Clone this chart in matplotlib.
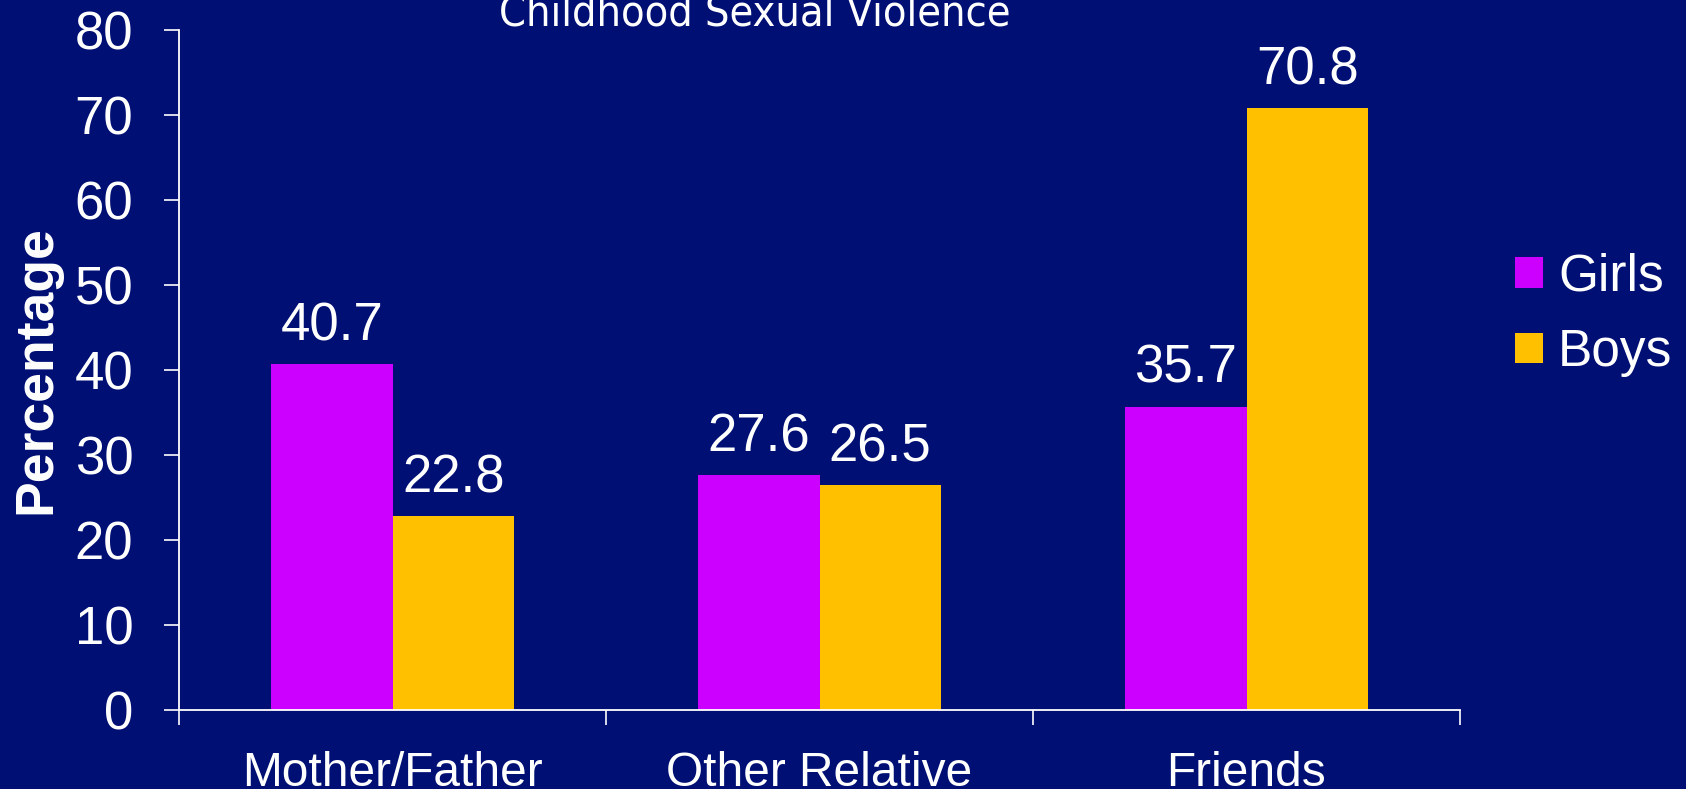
import matplotlib
matplotlib.use("Agg")
import matplotlib.pyplot as plt
import numpy as np
from matplotlib.patches import Patch

categories = ["Mother/Father", "Other Relative", "Friends"]
girls = [40.7, 27.6, 35.7]
boys = [22.8, 26.5, 70.8]
series_names = ["Girls", "Boys"]
yticks = [0, 10, 20, 30, 40, 50, 60, 70, 80]
title = "Childhood Sexual Violence"
ylabel = "Percentage"

BG = "#000F73"
C_GIRLS = "#CC00FF"
C_BOYS = "#FFC000"
FONT = "Liberation Sans"

fig = plt.figure(figsize=(16.86, 7.89), dpi=100, facecolor=BG)
ax = fig.add_axes([179/1686, 1 - 710/789, (1460 - 179)/1686, (710 - 30)/789])
ax.set_facecolor(BG)

x = np.arange(len(categories))
w = 0.284
b1 = ax.bar(x - w/2, girls, w, color=C_GIRLS, label=series_names[0], linewidth=0)
b2 = ax.bar(x + w/2, boys, w, color=C_BOYS, label=series_names[1], linewidth=0)

for bars, vals in ((b1, girls), (b2, boys)):
    for r, v in zip(bars, vals):
        ax.annotate(f"{v:.1f}", (r.get_x() + r.get_width()/2, v),
                    xytext=(0, 17), textcoords="offset points",
                    ha="center", va="baseline", color="white",
                    fontsize=38, family=FONT)

ax.set_xlim(-0.5, len(categories) - 0.5)
ax.set_ylim(0, 80)
ax.set_yticks(yticks)
ax.set_yticklabels([str(t) for t in yticks])
ax.set_xticks(x)
ax.set_xticklabels(categories)
ax.set_xticks(np.arange(-0.5, len(categories), 1.0), minor=True)

ax.tick_params(axis="y", colors="white", labelcolor="white", labelsize=38,
               length=11, width=1.2, pad=22, direction="out")
ax.tick_params(axis="x", which="major", length=0, labelcolor="white",
               labelsize=34.5, pad=29.5)
ax.tick_params(axis="x", which="minor", colors="white", length=11, width=1.2,
               direction="out")
for lab in ax.get_xticklabels() + ax.get_yticklabels():
    lab.set_family(FONT)

for s in ("top", "right"):
    ax.spines[s].set_visible(False)
for s in ("left", "bottom"):
    ax.spines[s].set_color("white")
    ax.spines[s].set_linewidth(1.3)

fig.text(755/1686, 1 - 26/789, title, ha="center", va="baseline",
         color="white", fontsize=31, family="DejaVu Sans", fontstretch="condensed")

fig.text(36/1686, 0.5 * ((1 - 30/789) + (1 - 710/789)), ylabel, rotation=90,
         ha="center", va="center", color="white", fontsize=38.5,
         fontweight="bold", family=FONT)

handles = [Patch(facecolor=C_GIRLS, edgecolor="none"),
           Patch(facecolor=C_BOYS, edgecolor="none")]
leg = fig.legend(handles, series_names, loc="center left",
                 bbox_to_anchor=(1515/1686, 1 - 315/789),
                 frameon=False, borderpad=0, borderaxespad=0,
                 handlelength=0.54, handleheight=0.54, handletextpad=0.3,
                 labelspacing=0.52, prop={"family": FONT, "size": 37})
for t in leg.get_texts():
    t.set_color("white")

fig.savefig("out.png", dpi=100, facecolor=BG)
